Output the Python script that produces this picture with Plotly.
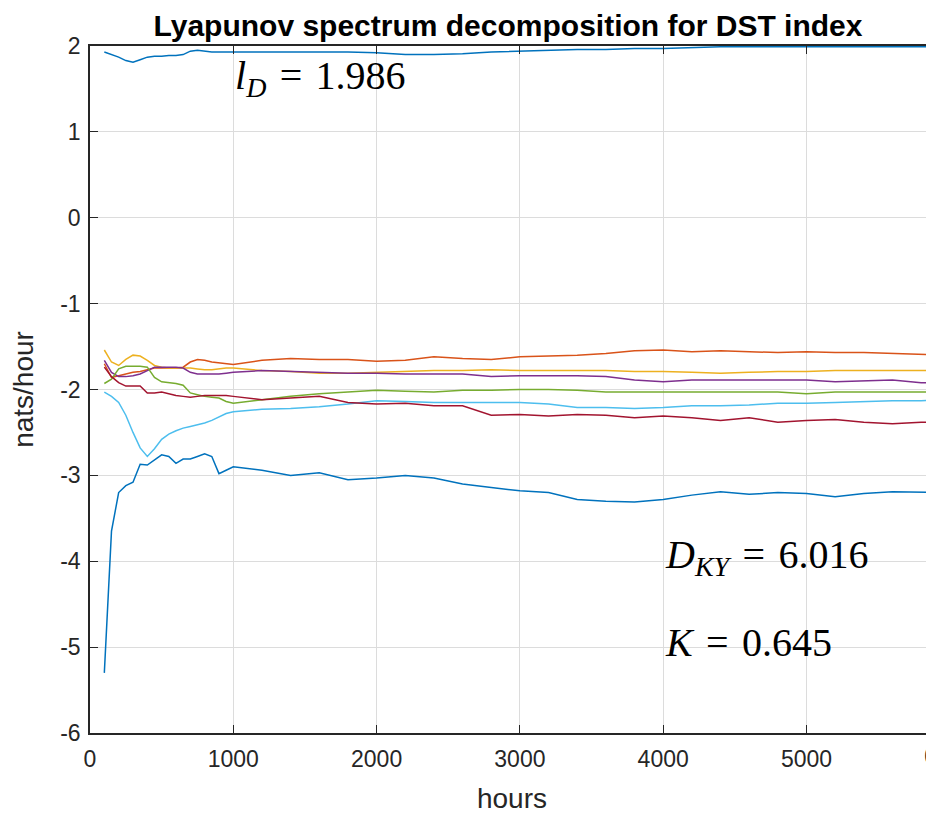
import plotly.graph_objects as go

hours = [100, 150, 200, 250, 300, 350, 400, 450, 500, 550, 600, 650, 700, 750, 800, 850, 900, 950, 1000,
         1200, 1400, 1600, 1800, 2000, 2200, 2400, 2600, 2800, 3000, 3200, 3400, 3600, 3800, 4000,
         4200, 4400, 4600, 4800, 5000, 5200, 5400, 5600, 5800, 6000]

l1 = [1.93, 1.90, 1.87, 1.83, 1.81, 1.84, 1.87, 1.88, 1.88, 1.89, 1.89, 1.90, 1.94, 1.95, 1.94, 1.93, 1.93, 1.93, 1.93,
      1.93, 1.93, 1.93, 1.93, 1.92, 1.90, 1.90, 1.91, 1.93, 1.94, 1.95, 1.96, 1.96, 1.97, 1.97,
      1.98, 1.99, 1.99, 1.99, 1.99, 1.99, 1.99, 1.99, 1.99, 1.99]
l2 = [-1.70, -1.86, -1.84, -1.82, -1.80, -1.79, -1.77, -1.75, -1.75, -1.75, -1.75, -1.74, -1.68, -1.65, -1.66, -1.68, -1.69, -1.70, -1.71,
      -1.66, -1.64, -1.65, -1.65, -1.67, -1.66, -1.62, -1.64, -1.65, -1.62, -1.61, -1.60, -1.58, -1.55, -1.54,
      -1.56, -1.55, -1.56, -1.57, -1.56, -1.57, -1.57, -1.58, -1.59, -1.60]
l3 = [-1.54, -1.68, -1.72, -1.65, -1.60, -1.61, -1.66, -1.72, -1.74, -1.75, -1.75, -1.75, -1.75, -1.76, -1.77, -1.77, -1.76, -1.75, -1.75,
      -1.78, -1.79, -1.81, -1.81, -1.80, -1.79, -1.78, -1.78, -1.77, -1.78, -1.78, -1.78, -1.78, -1.79, -1.79,
      -1.80, -1.81, -1.80, -1.79, -1.79, -1.78, -1.78, -1.78, -1.78, -1.78]
l4 = [-1.66, -1.80, -1.85, -1.85, -1.84, -1.82, -1.78, -1.74, -1.74, -1.74, -1.74, -1.75, -1.80, -1.82, -1.82, -1.82, -1.82, -1.81, -1.80,
      -1.78, -1.79, -1.80, -1.81, -1.81, -1.82, -1.82, -1.82, -1.85, -1.84, -1.84, -1.84, -1.85, -1.89, -1.91,
      -1.89, -1.89, -1.89, -1.89, -1.89, -1.91, -1.90, -1.89, -1.92, -1.92]
l5 = [-1.93, -1.88, -1.76, -1.73, -1.73, -1.73, -1.74, -1.86, -1.91, -1.92, -1.93, -1.95, -2.04, -2.06, -2.08, -2.09, -2.10, -2.14, -2.16,
      -2.12, -2.08, -2.05, -2.03, -2.01, -2.02, -2.03, -2.01, -2.01, -2.00, -2.00, -2.01, -2.03, -2.03, -2.03,
      -2.03, -2.03, -2.03, -2.03, -2.05, -2.03, -2.03, -2.03, -2.03, -2.03]
l6 = [-2.03, -2.08, -2.15, -2.30, -2.50, -2.68, -2.78, -2.69, -2.58, -2.52, -2.48, -2.45, -2.43, -2.41, -2.39, -2.36, -2.32, -2.28, -2.26,
      -2.23, -2.22, -2.20, -2.17, -2.13, -2.14, -2.15, -2.15, -2.15, -2.15, -2.17, -2.21, -2.21, -2.22, -2.21,
      -2.19, -2.19, -2.18, -2.16, -2.16, -2.15, -2.14, -2.13, -2.13, -2.12]
l7 = [-1.74, -1.85, -1.92, -1.96, -1.96, -1.96, -2.04, -2.04, -2.03, -2.05, -2.07, -2.08, -2.09, -2.08, -2.07, -2.07, -2.07, -2.07, -2.08,
      -2.12, -2.10, -2.08, -2.15, -2.17, -2.16, -2.19, -2.19, -2.30, -2.29, -2.31, -2.29, -2.30, -2.33, -2.31,
      -2.33, -2.36, -2.33, -2.38, -2.36, -2.35, -2.38, -2.40, -2.38, -2.38]
l8 = [-5.30, -3.65, -3.20, -3.12, -3.08, -2.87, -2.88, -2.82, -2.76, -2.78, -2.86, -2.81, -2.81, -2.78, -2.75, -2.78, -2.98, -2.94, -2.90,
      -2.94, -3.00, -2.97, -3.05, -3.03, -3.00, -3.03, -3.10, -3.14, -3.18, -3.20, -3.28, -3.30, -3.31, -3.28,
      -3.23, -3.19, -3.22, -3.20, -3.21, -3.25, -3.21, -3.19, -3.20, -3.20]

series = [l1, l2, l3, l4, l5, l6, l7, l8]
colors = ["#0072BD", "#D95319", "#EDB120", "#7E2F8E", "#77AC30", "#4DBEEE", "#A2142F", "#0072BD"]

x_ticks = [0, 1000, 2000, 3000, 4000, 5000]
x_labels = ["0", "1000", "2000", "3000", "4000", "5000"]
y_ticks = [-6, -5, -4, -3, -2, -1, 0, 1, 2]
y_labels = ["-6", "-5", "-4", "-3", "-2", "-1", "0", "1", "2"]

fig = go.Figure()
for s, c in zip(series, colors):
    fig.add_trace(go.Scatter(x=hours, y=s, mode="lines", line=dict(color=c, width=1.5), showlegend=False))

W, H = 926, 807
axis_font = dict(family="Liberation Sans, Arial", size=23, color="#262626")
label_font = dict(family="Liberation Sans, Arial", size=28, color="#262626")
fig.update_layout(
    width=W, height=H,
    margin=dict(l=82, r=0, t=38, b=82),
    paper_bgcolor="white", plot_bgcolor="white",
    title=dict(text="<b>Lyapunov spectrum decomposition for DST index</b>",
               font=dict(family="Liberation Sans, Arial", size=30, color="black"),
               x=(508 - 90) / 844, xanchor="center", y=1 - 17 / H, yanchor="middle", xref="paper"),
    xaxis=dict(range=[0, 5890], tickvals=x_ticks, ticktext=x_labels, ticks="inside", ticklen=8, tickcolor="#262626",
               showline=True, linecolor="#262626", linewidth=1.5, mirror="ticks",
               showgrid=True, gridcolor="#dcdcdc", gridwidth=1, zeroline=False,
               tickfont=axis_font, ticklabelstandoff=5,
               title=dict(text="hours", font=label_font, standoff=17)),
    yaxis=dict(range=[-6, 2], tickvals=y_ticks, ticktext=y_labels, ticks="inside", ticklen=8, tickcolor="#262626",
               showline=True, linecolor="#262626", linewidth=1.5, mirror=False,
               showgrid=True, gridcolor="#dcdcdc", gridwidth=1, zeroline=False,
               tickfont=axis_font, ticklabelstandoff=3,
               title=dict(text="nats/hour", font=label_font, standoff=20)),
)

ann_font = dict(family="Liberation Serif, DejaVu Serif", size=40, color="black")
eq = "&nbsp;&#8202;=&#8202;&nbsp;"
fig.add_annotation(x=1000, y=1.63, xref="x", yref="y", xanchor="left", yanchor="middle", showarrow=False,
                   text="<i>l</i><sub><i>D</i></sub>" + eq + "1.986", font=ann_font)
fig.add_annotation(x=4000, y=-3.95, xref="x", yref="y", xanchor="left", yanchor="middle", showarrow=False,
                   text="<i>D</i><sub><i>KY</i></sub>" + eq + "6.016", font=ann_font)
fig.add_annotation(x=4000, y=-4.95, xref="x", yref="y", xanchor="left", yanchor="middle", showarrow=False,
                   text="<i>K</i>" + eq + "0.645", font=ann_font)
# partially visible 6000 tick label at the cut-off right edge
fig.add_annotation(x=6000 / 5890, y=-0.012, xref="paper", yref="paper", xanchor="center", yanchor="top",
                   showarrow=False, text="6000", font=axis_font)

fig.write_html("out.html")
